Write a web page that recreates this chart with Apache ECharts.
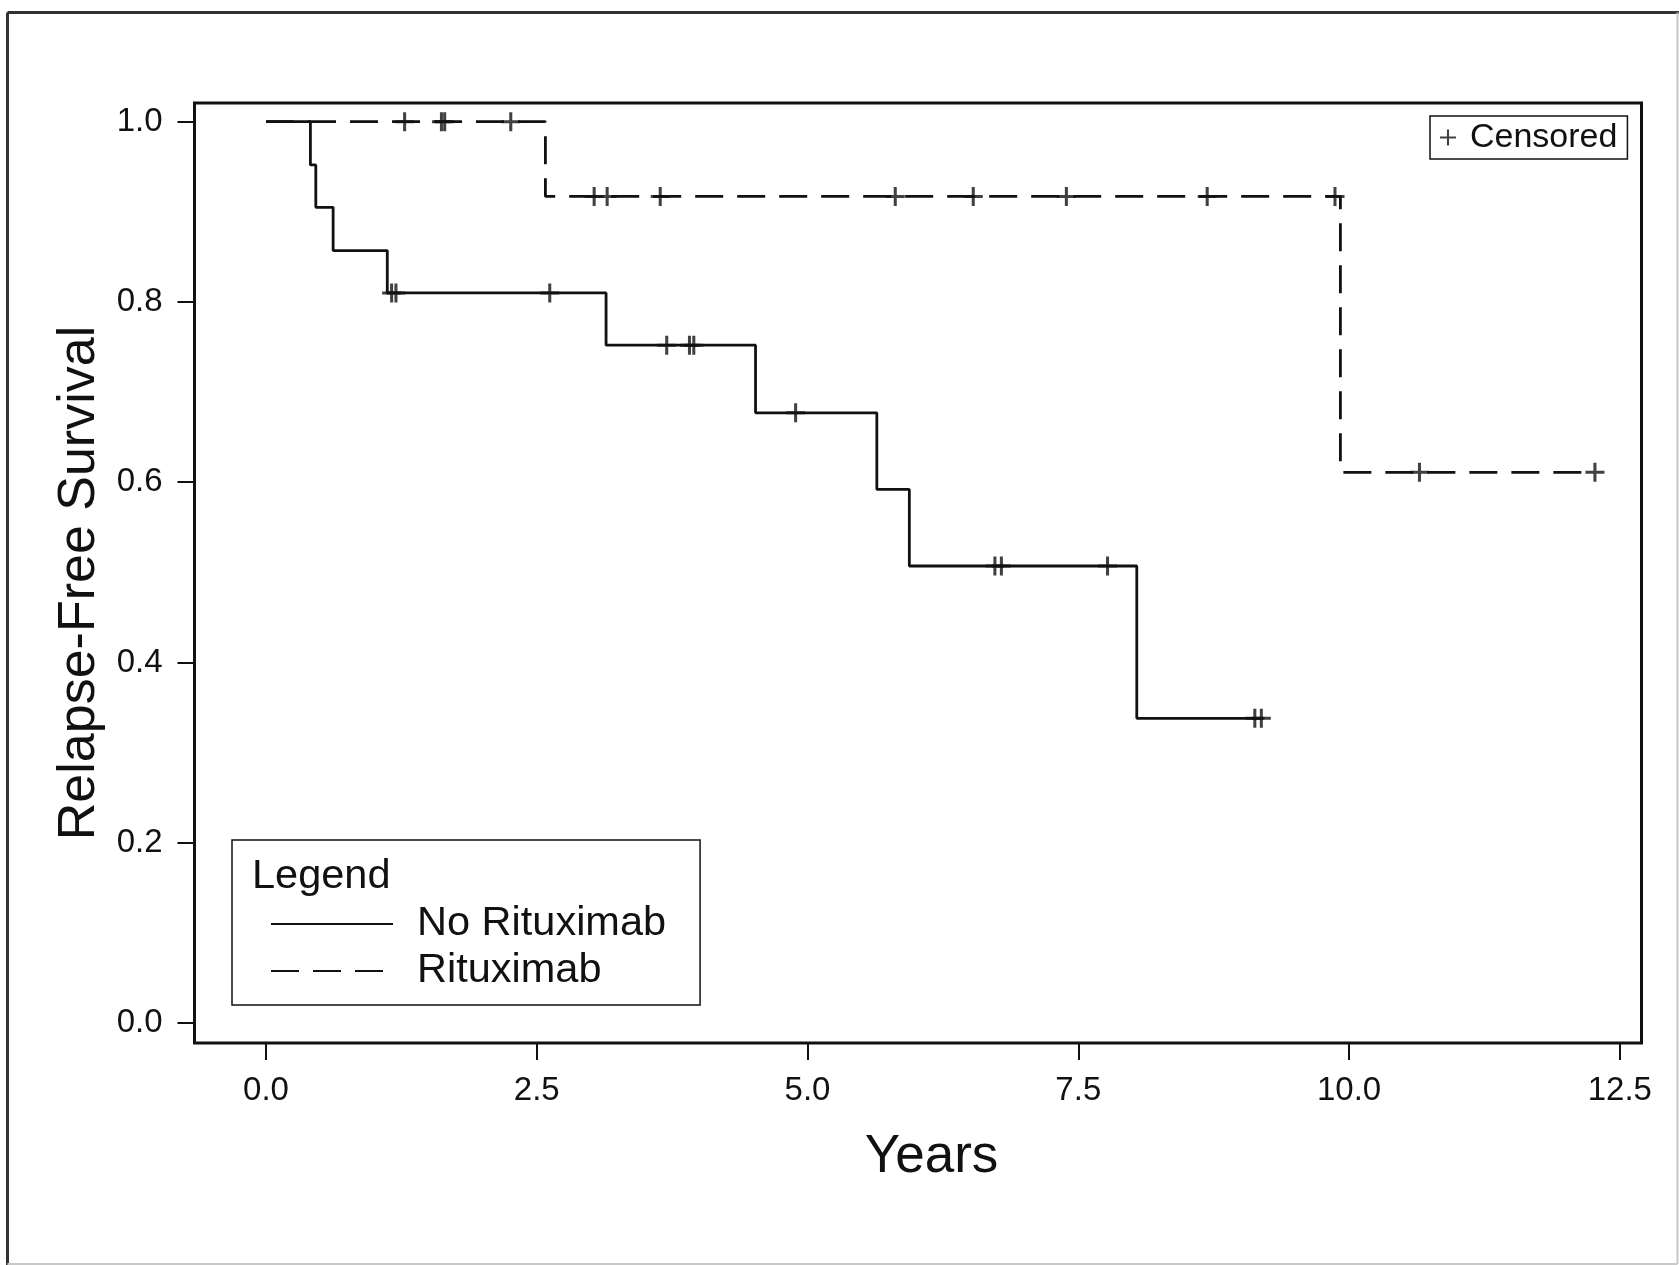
<!DOCTYPE html>
<html>
<head>
<meta charset="utf-8">
<script src="https://cdn.jsdelivr.net/npm/echarts@6/dist/echarts.min.js"></script>
<style>
  html, body { margin: 0; padding: 0; background: #fff; }
  #chart { width: 1679px; height: 1265px; }
</style>
</head>
<body>
<div id="chart"></div>
<script>
// tick positions
const xTicks = [0, 2.5, 5, 7.5, 10, 12.5];
const yTicks = [0, 0.2, 0.4, 0.6, 0.8, 1.0];

// Kaplan-Meier steps [years, survival]
const noRituxSteps = [
  [0, 1.0], [0.41, 0.952], [0.46, 0.905], [0.62, 0.857], [1.12, 0.81],
  [3.14, 0.752], [4.52, 0.677], [5.64, 0.592], [5.94, 0.507], [8.04, 0.338], [9.19, 0.338]
];
const rituxSteps = [
  [0, 1.0], [2.58, 0.917], [9.92, 0.611], [12.27, 0.611]
];

// censored observations [years, survival]
const noRituxCensor = [
  [1.16, 0.81], [1.2, 0.81], [2.62, 0.81], [3.7, 0.752], [3.91, 0.752], [3.95, 0.752],
  [4.89, 0.677], [6.73, 0.507], [6.79, 0.507], [7.77, 0.507], [9.13, 0.338], [9.19, 0.338]
];
const rituxCensor = [
  [1.28, 1.0], [1.62, 1.0], [1.65, 1.0], [2.26, 1.0], [3.03, 0.917], [3.15, 0.917],
  [3.64, 0.917], [5.81, 0.917], [6.53, 0.917], [7.39, 0.917], [8.69, 0.917], [9.87, 0.917],
  [10.65, 0.611], [12.27, 0.611]
];

const FONT = '"Liberation Sans", Arial, sans-serif';
const INK = '#111';
const plusIcon = 'path://M-1.3,-10H1.3V-1.3H10V1.3H1.3V10H-1.3V1.3H-10V-1.3H-1.3Z';
const markIcon = 'path://M-1.6,-10H1.6V-1.6H10V1.6H1.6V10H-1.6V1.6H-10V-1.6H-1.6Z';

let chart = echarts.init(document.getElementById("chart"));

let option = {
  animation: false,
  backgroundColor: "#fff",
  grid: {
    left: 194.5,
    right: 37.5,
    top: 103,
    bottom: 222,
    show: true,
    borderColor: INK,
    borderWidth: 3,
    containLabel: false,
    outerBoundsMode: "none",
  },
  xAxis: {
    type: "value",
    min: -0.66,
    max: 12.7,
    name: "Years",
    nameLocation: "middle",
    nameGap: 88,
    nameTextStyle: { fontSize: 53, fontFamily: FONT, color: INK, padding: [0, 0, 0, 27] },
    axisLine: { show: false, onZero: false },
    axisTick: { show: true, length: 17, customValues: xTicks, lineStyle: { color: INK, width: 2 } },
    axisLabel: {
      customValues: xTicks,
      formatter: (v) => v.toFixed(1),
      margin: 31,
      fontSize: 33,
      fontFamily: FONT,
      color: INK,
    },
    splitLine: { show: false },
  },
  yAxis: {
    type: "value",
    min: -0.0222,
    max: 1.0207,
    name: "Relapse-Free Survival",
    nameLocation: "middle",
    nameGap: 85,
    nameTextStyle: { fontSize: 52, fontFamily: FONT, color: INK, padding: [0, 20, 0, 0] },
    axisLine: { show: false, onZero: false },
    axisTick: { show: true, length: 17, customValues: yTicks, lineStyle: { color: INK, width: 2 } },
    axisLabel: {
      customValues: yTicks,
      formatter: (v) => v.toFixed(1),
      margin: 32,
      fontSize: 33,
      fontFamily: FONT,
      color: INK,
    },
    splitLine: { show: false },
  },
  legend: [
    {
      data: ["No Rituximab", "Rituximab"],
      orient: "vertical",
      left: 232,
      top: 840,
      padding: [63, 34, 13, 38],
      itemWidth: 122,
      itemHeight: 20,
      itemGap: 5,
      itemStyle: { opacity: 0 },
      borderColor: INK,
      borderWidth: 1.5,
      selectedMode: false,
      textStyle: { fontSize: 41.5, fontFamily: FONT, color: INK, padding: [0, 0, 0, 19] },
    },
    {
      data: [{ name: "Censored", icon: plusIcon }],
      left: 1430,
      top: 116,
      padding: [4.5, 10, 4.5, 10],
      itemWidth: 16,
      itemHeight: 16,
      borderColor: INK,
      borderWidth: 1.5,
      selectedMode: false,
      textStyle: { fontSize: 34, fontFamily: FONT, color: INK, padding: [0, 0, 0, 9] },
    },
  ],
  graphic: [
    {
      type: "text",
      left: 252,
      top: 856,
      style: { text: "Legend", fontSize: 41.5, fontFamily: FONT, fill: INK },
    },
    // outer frame of the figure
    { type: "line", shape: { x1: 7.5, y1: 12.5, x2: 7.5, y2: 1265 }, style: { stroke: "#333", lineWidth: 3 } },
    { type: "line", shape: { x1: 7.5, y1: 12.5, x2: 1679, y2: 12.5 }, style: { stroke: "#333", lineWidth: 3 } },
    { type: "line", shape: { x1: 1677.5, y1: 12.5, x2: 1677.5, y2: 1264 }, style: { stroke: "#c8c8c8", lineWidth: 2 } },
    { type: "line", shape: { x1: 7.5, y1: 1264, x2: 1677.5, y2: 1264 }, style: { stroke: "#c8c8c8", lineWidth: 2 } },
  ],
  series: [
    {
      name: "No Rituximab",
      type: "line",
      step: "end",
      symbol: "none",
      data: noRituxSteps,
      lineStyle: { color: INK, width: 2.8 },
      itemStyle: { color: INK },
    },
    {
      name: "Rituximab",
      type: "line",
      step: "end",
      symbol: "none",
      data: rituxSteps,
      lineStyle: { color: INK, width: 2.8, type: [28, 14] },
      itemStyle: { color: INK },
    },
    {
      name: "Censored",
      type: "scatter",
      symbol: markIcon,
      symbolSize: 19,
      data: noRituxCensor,
      itemStyle: { color: INK },
    },
    {
      name: "Censored",
      type: "scatter",
      symbol: markIcon,
      symbolSize: 19,
      data: rituxCensor,
      itemStyle: { color: INK },
    },
  ],
};

chart.setOption(option);
</script>
</body>
</html>
